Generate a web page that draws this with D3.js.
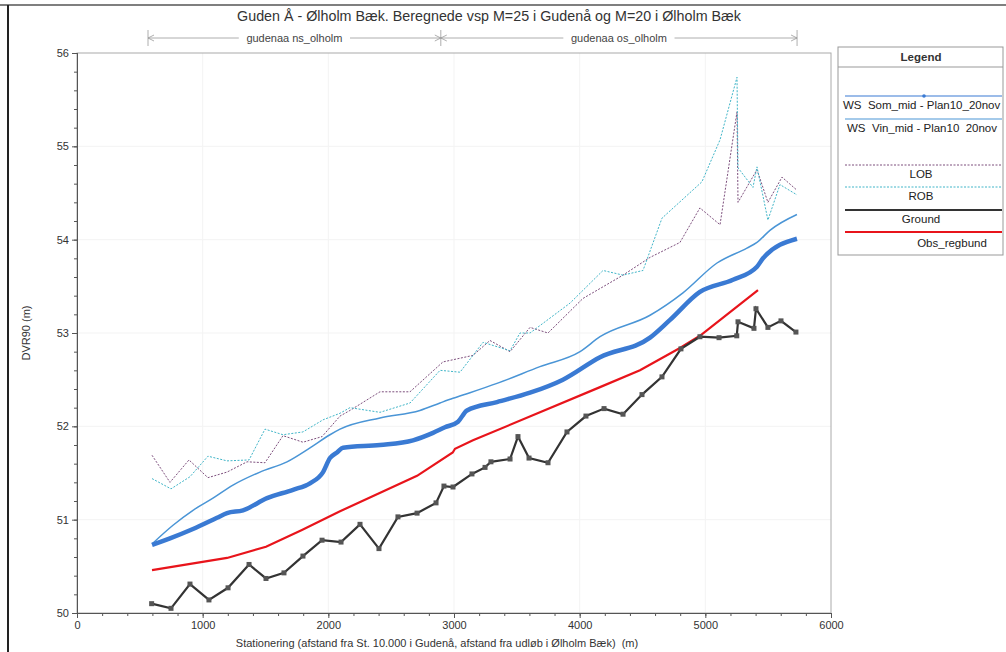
<!DOCTYPE html>
<html><head><meta charset="utf-8">
<script src="https://cdn.jsdelivr.net/npm/d3@7"></script>
<style>body{margin:0;background:#fff;font-family:Arial,"Liberation Sans",sans-serif} text{white-space:pre}</style>
</head><body><svg id="c" width="1006" height="652"></svg>
<script>
const titleText = "Guden Å - Ølholm Bæk. Beregnede vsp M=25 i Gudenå og M=20 i Ølholm Bæk";
const xLabel = "Stationering (afstand fra St. 10.000 i Gudenå, afstand fra udløb i Ølholm Bæk)  (m)";
const yLabel = "DVR90 (m)";
const xTicks = [0,1000,2000,3000,4000,5000,6000];
const yTicks = [50,51,52,53,54,55,56];
const reaches = [
  {name:"gudenaa ns_olholm", from:565, to:2895},
  {name:"gudenaa os_olholm", from:2895, to:5730}
];
const legendNames = ["WS  Som_mid - Plan10_20nov","WS  Vin_mid - Plan10  20nov","LOB","ROB","Ground","Obs_regbund"];

const wsSomX = [597,740,923,1114,1194,1321,1512,1719,1854,1958,2013,2069,2117,2411,2674,2833,2928,3032,3103,3342,3605,3867,4162,4560,4719,4957,5220,5411,5459,5729];
const wsSomY = [50.73,50.80,50.90,51.02,51.07,51.10,51.23,51.32,51.39,51.51,51.66,51.72,51.77,51.80,51.85,51.93,51.99,52.05,52.17,52.26,52.36,52.50,52.74,52.95,53.14,53.44,53.57,53.71,53.80,54.01];

const wsVinX = [597,764,923,1082,1241,1456,1671,1854,2013,2093,2411,2729,2889,2992,3127,3342,3684,4003,4162,4560,4822,5093,5331,5411,5514,5729];
const wsVinY = [50.74,50.94,51.10,51.23,51.37,51.51,51.62,51.77,51.91,51.97,52.09,52.17,52.25,52.30,52.36,52.46,52.64,52.80,52.96,53.19,53.43,53.75,53.91,53.97,54.10,54.27];

const lobX = [597,740,891,1042,1194,1353,1496,1639,1798,1950,2093,2172,2411,2650,2912,3151,3286,3446,3605,3748,4026,4345,4560,4798,4957,5117,5252,5260,5411,5498,5610,5729];
const lobY = [51.69,51.40,51.64,51.45,51.51,51.62,51.61,51.90,51.83,51.89,52.11,52.17,52.37,52.37,52.69,52.76,52.92,52.80,53.06,53.00,53.37,53.62,53.81,53.97,54.34,54.16,55.37,54.40,54.75,54.40,54.67,54.53];

const robX = [597,748,899,1042,1194,1369,1496,1639,1798,1958,2093,2172,2411,2650,2889,3048,3231,3446,3525,3605,3923,4186,4345,4504,4655,4973,5117,5252,5260,5379,5411,5498,5594,5729];
const robY = [51.44,51.33,51.46,51.68,51.63,51.64,51.97,51.91,51.94,52.07,52.14,52.20,52.15,52.25,52.60,52.58,52.90,52.81,53.00,53.00,53.32,53.67,53.62,53.67,54.23,54.62,55.07,55.74,54.77,54.56,54.78,54.21,54.59,54.48];

const groundX = [594,748,899,1050,1202,1369,1504,1647,1798,1950,2101,2252,2403,2554,2706,2857,2920,2992,3143,3247,3294,3446,3509,3597,3748,3899,4050,4194,4345,4496,4655,4806,4957,5109,5250,5260,5387,5403,5498,5602,5721];
const groundY = [50.10,50.05,50.31,50.14,50.27,50.52,50.37,50.43,50.61,50.78,50.76,50.95,50.69,51.03,51.07,51.18,51.36,51.35,51.49,51.56,51.62,51.65,51.89,51.66,51.61,51.94,52.11,52.19,52.13,52.34,52.53,52.83,52.96,52.95,52.97,53.12,53.05,53.26,53.06,53.13,53.01];

const obsX = [597,1194,1504,1790,2093,2706,2990,3008,3151,4162,4480,4798,4957,5419];
const obsY = [50.46,50.59,50.71,50.89,51.09,51.47,51.72,51.76,51.85,52.42,52.60,52.84,52.97,53.46];

const svg = d3.select("#c");
const x = d3.scaleLinear().domain([0,6000]).range([77,831]);
const y = d3.scaleLinear().domain([50,56]).range([613,53]);

// scan frame
svg.append("line").attr("x1",0).attr("x2",1006).attr("y1",5).attr("y2",5).attr("stroke","#555").attr("stroke-width",1.5);
svg.append("line").attr("x1",8).attr("x2",8).attr("y1",5).attr("y2",652).attr("stroke","#222").attr("stroke-width",2);

// faint grid
const g = svg.append("g");
g.selectAll(".gx").data(xTicks.slice(1,-1)).enter().append("line")
  .attr("x1",d=>x(d)).attr("x2",d=>x(d)).attr("y1",y(56)).attr("y2",y(50)).attr("stroke","#f3f3f3");
g.selectAll(".gy").data(yTicks.slice(1,-1)).enter().append("line")
  .attr("x1",x(0)).attr("x2",x(6000)).attr("y1",d=>y(d)).attr("y2",d=>y(d)).attr("stroke","#f3f3f3");

// plot frame
svg.append("rect").attr("x",x(0)).attr("y",y(56)).attr("width",x(6000)-x(0)).attr("height",y(50)-y(56))
  .attr("fill","none").attr("stroke","#aaa").attr("stroke-width",1);

// axes
const xa = svg.append("g").attr("transform",`translate(0,${y(50)})`);
xa.call(d3.axisBottom(x).tickValues(d3.range(0,6001,200)).tickSize(3).tickFormat(""));
xa.append("g").call(d3.axisBottom(x).tickValues(xTicks).tickSize(5).tickFormat(d3.format("d")));
xa.selectAll("path,line").attr("stroke","#555");
xa.selectAll("text").attr("font-size",11).attr("fill","#333").attr("font-family","Arial, Liberation Sans, sans-serif");
const ya = svg.append("g").attr("transform",`translate(${x(0)},0)`);
ya.call(d3.axisLeft(y).tickValues(d3.range(50,56.001,0.2)).tickSize(3).tickFormat(""));
ya.append("g").call(d3.axisLeft(y).tickValues(yTicks).tickSize(5).tickFormat(d3.format("d")));
ya.selectAll("path,line").attr("stroke","#555");
ya.selectAll("text").attr("font-size",11).attr("fill","#333").attr("font-family","Arial, Liberation Sans, sans-serif");

svg.append("text").attr("x",437).attr("y",647).attr("text-anchor","middle").attr("font-size",11).attr("fill","#333").text(xLabel);
svg.append("text").attr("transform","translate(30,333) rotate(-90)").attr("text-anchor","middle").attr("font-size",11).attr("fill","#333").text(yLabel);
svg.append("text").attr("x",489).attr("y",21).attr("text-anchor","middle").attr("font-size",14.3).attr("fill","#333").text(titleText);

// reach brackets
const by = 38;
const rb = svg.append("g");
reaches.forEach((r,i)=>{
  const x1 = x(r.from), x2 = x(r.to), xm = (x1+x2)/2;
  const tw = r.name.length*5.6/2 + 8;
  rb.append("line").attr("x1",x1).attr("x2",xm-tw).attr("y1",by).attr("y2",by).attr("stroke","#999").attr("stroke-width",0.8);
  rb.append("line").attr("x1",xm+tw).attr("x2",x2).attr("y1",by).attr("y2",by).attr("stroke","#999").attr("stroke-width",0.8);
  rb.append("text").attr("x",xm).attr("y",by+4).attr("text-anchor","middle").attr("font-size",11).attr("fill","#444").text(r.name);
  [[x1,1],[x2,-1]].forEach(([px,dir])=>{
    rb.append("path").attr("d",`M${px+dir*6},${by-3}L${px},${by}L${px+dir*6},${by+3}`).attr("fill","none").attr("stroke","#999").attr("stroke-width",0.8);
  });
});
[x(reaches[0].from), x(reaches[0].to), x(reaches[1].to)].forEach(px=>{
  rb.append("line").attr("x1",px).attr("x2",px).attr("y1",by-8).attr("y2",by+8).attr("stroke","#999").attr("stroke-width",0.8);
});

// series
const line = d3.line().x(d=>x(d[0])).y(d=>y(d[1]));
const zipd = (a,b)=>a.map((v,i)=>[v,b[i]]);
const plot = svg.append("g");
plot.append("path").datum(zipd(obsX,obsY)).attr("d",line).attr("fill","none").attr("stroke","#e8141b").attr("stroke-width",2.2);
plot.append("path").datum(zipd(lobX,lobY)).attr("d",line).attr("fill","none").attr("stroke","#7d4f7d").attr("stroke-width",1).attr("stroke-dasharray","2,1.5");
plot.append("path").datum(zipd(robX,robY)).attr("d",line).attr("fill","none").attr("stroke","#40b5c8").attr("stroke-width",1).attr("stroke-dasharray","2,1.5");
plot.append("path").datum(zipd(wsVinX,wsVinY)).attr("d",line.curve(d3.curveMonotoneX)).attr("fill","none").attr("stroke","#4a95d6").attr("stroke-width",1.5);
plot.append("path").datum(zipd(wsSomX,wsSomY)).attr("d",line.curve(d3.curveMonotoneX)).attr("fill","none").attr("stroke","#3a7ad3").attr("stroke-width",4.5);
line.curve(d3.curveLinear);
plot.append("path").datum(zipd(groundX,groundY)).attr("d",line).attr("fill","none").attr("stroke","#333").attr("stroke-width",2.2);
plot.selectAll(".gm").data(zipd(groundX,groundY)).enter().append("rect")
  .attr("x",d=>x(d[0])-2.5).attr("y",d=>y(d[1])-2.5).attr("width",5).attr("height",5).attr("fill","#555");

// legend
const lg = svg.append("g");
lg.append("rect").attr("x",838).attr("y",47).attr("width",165).attr("height",208).attr("fill","#fff").attr("stroke","#999");
lg.append("line").attr("x1",838).attr("x2",1003).attr("y1",67).attr("y2",67).attr("stroke","#999");
lg.append("text").attr("x",921).attr("y",61).attr("text-anchor","middle").attr("font-size",11.5).attr("font-weight","bold").attr("fill","#333").text("Legend");
const ent = [
  {ly:96, ty:109, col:"#3a7ad3", w:1.2, dash:null, anchor:"start", tx:843},
  {ly:119, ty:132, col:"#4a95d6", w:1.2, dash:null, anchor:"start", tx:847},
  {ly:165, ty:178, col:"#7d4f7d", w:1, dash:"2,1.5", anchor:"middle", tx:921},
  {ly:187, ty:200, col:"#40b5c8", w:1, dash:"2,1.5", anchor:"middle", tx:921},
  {ly:210, ty:223, col:"#333", w:2, dash:null, anchor:"middle", tx:921},
  {ly:232, ty:247, col:"#e8141b", w:2, dash:null, anchor:"middle", tx:952}
];
ent.forEach((e,i)=>{
  const l = lg.append("line").attr("x1",845).attr("x2",1002).attr("y1",e.ly).attr("y2",e.ly).attr("stroke",e.col).attr("stroke-width",e.w);
  if(e.dash) l.attr("stroke-dasharray",e.dash);
  lg.append("text").attr("x",e.tx).attr("y",e.ty).attr("text-anchor",e.anchor).attr("font-size",11.5).attr("fill","#222").text(legendNames[i]);
});
lg.append("circle").attr("cx",924).attr("cy",96).attr("r",1.8).attr("fill","#3a7ad3");
</script></body></html>
